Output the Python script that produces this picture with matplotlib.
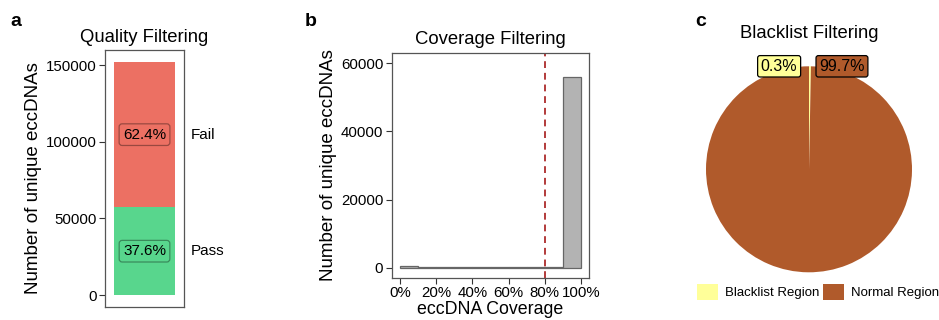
import matplotlib
matplotlib.use("Agg")
import matplotlib.pyplot as plt
from matplotlib.patches import Patch
import numpy as np

plt.rcParams['font.family'] = ['Liberation Sans', 'DejaVu Sans']

# Quality filtering counts
qc_labels = ["Pass", "Fail"]
qc_counts = [57150, 94850]
qc_colors = ["#58D68D", "#EC7063"]

# Coverage histogram (10% bins)
cov_bin_edges = [0.0, 0.1, 0.2, 0.3, 0.4, 0.5, 0.6, 0.7, 0.8, 0.9, 1.0]
cov_counts = [500, 150, 80, 60, 60, 80, 120, 220, 330, 56000]
cov_cutoff = 0.8
cov_ticks = [0.0, 0.2, 0.4, 0.6, 0.8, 1.0]
cov_tick_labels = ["0%", "20%", "40%", "60%", "80%", "100%"]

# Blacklist filtering shares (%)
bl_labels = ["Blacklist Region", "Normal Region"]
bl_values = [0.3, 99.7]
bl_colors = ["#FFFF99", "#B05A2B"]

W, H = 939, 320
fig = plt.figure(figsize=(W / 100, H / 100), dpi=100)

TICK_FS = 10.8
LAB_FS = 13.5
TITLE_FS = 13.3


def px_axes(x0, y0, x1, y1):
    return fig.add_axes([x0 / W, 1 - y1 / H, (x1 - x0) / W, (y1 - y0) / H])


def style_box(ax):
    for s in ax.spines.values():
        s.set_color("#555555")
        s.set_linewidth(0.9)
    ax.tick_params(axis="both", length=4, width=0.8, color="#333333",
                   labelsize=TICK_FS, labelcolor="black", pad=2)


# ---- a: stacked bar ----
axa = px_axes(105, 50, 184, 307)
bottom = 0
total = sum(qc_counts)
for lab, cnt, col in zip(qc_labels, qc_counts, qc_colors):
    axa.bar(0, cnt, width=1.0, bottom=bottom, color=col, edgecolor="none")
    mid = bottom + cnt / 2
    axa.text(0, mid, f"{cnt / total * 100:.1f}%", ha="center", va="center",
             fontsize=11,
             bbox=dict(boxstyle="round,pad=0.25,rounding_size=0.2",
                       fc="none", ec=(0, 0, 0, 0.35), lw=0.9))
    axa.text(0.76, mid, lab, ha="left", va="center", fontsize=11,
             clip_on=False)
    bottom += cnt
axa.set_xlim(-0.648, 0.648)
axa.set_ylim(-7826, 159783)
axa.set_xticks([])
axa.set_yticks([0, 50000, 100000, 150000])
axa.set_yticklabels(["0", "50000", "100000", "150000"])
axa.set_ylabel("Number of unique eccDNAs", fontsize=LAB_FS, labelpad=3)
axa.set_title("Quality Filtering", fontsize=TITLE_FS, pad=6)
style_box(axa)

# ---- b: coverage histogram ----
axb = px_axes(391.7, 52.7, 589, 277.7)
lefts = np.array(cov_bin_edges[:-1])
widths = np.diff(cov_bin_edges)
axb.bar(lefts, cov_counts, width=widths, align="edge", color="#B3B3B3",
        edgecolor="#666666", linewidth=0.9)
axb.axvline(cov_cutoff, color="#B23A3A", ls=(0, (3.5, 2.5)), lw=1.4)
axb.set_xlim(-0.046, 1.044)
axb.set_ylim(-2937, 63142)
axb.set_xticks(cov_ticks)
axb.set_xticklabels(cov_tick_labels)
axb.set_yticks([0, 20000, 40000, 60000])
axb.set_xlabel("eccDNA Coverage", fontsize=12.8, labelpad=1)
axb.set_ylabel("Number of unique eccDNAs", fontsize=LAB_FS, labelpad=3)
axb.set_title("Coverage Filtering", fontsize=TITLE_FS, pad=6)
style_box(axb)

# ---- c: blacklist pie ----
axc = px_axes(706, 66.3, 912, 272.3)
axc.pie(bl_values, colors=bl_colors, startangle=90, counterclock=False,
        wedgeprops=dict(linewidth=0), radius=1.0)
axc.set_xlim(-1, 1)
axc.set_ylim(-1, 1)
axc.set_aspect("equal")
axc.axis("off")
label_x = [-0.29, 0.32]
for val, col, lx in zip(bl_values, bl_colors, label_x):
    axc.text(lx, 1.0, f"{val:.1f}%", ha="center", va="center", fontsize=11.5,
             clip_on=False,
             bbox=dict(boxstyle="round,pad=0.2,rounding_size=0.15",
                       fc=col, ec="black", lw=0.9))
fig.text(809 / W, 1 - 34 / H, "Blacklist Filtering", ha="center",
         va="center", fontsize=TITLE_FS)
handles = [Patch(facecolor=c, edgecolor="none") for c in bl_colors]
fig.legend(handles, bl_labels, loc="center", bbox_to_anchor=(818 / W, 1 - 292 / H),
           ncol=2, frameon=False, fontsize=9.5, handlelength=1.6,
           handleheight=1.6, handletextpad=0.5, columnspacing=0.3)

# panel letters
for x, lab in [(10, "a"), (305, "b"), (695, "c")]:
    fig.text(x / W, 1 - 22 / H, lab, fontsize=14, fontweight="bold",
             ha="left", va="center")

fig.savefig("out.png", dpi=100)
